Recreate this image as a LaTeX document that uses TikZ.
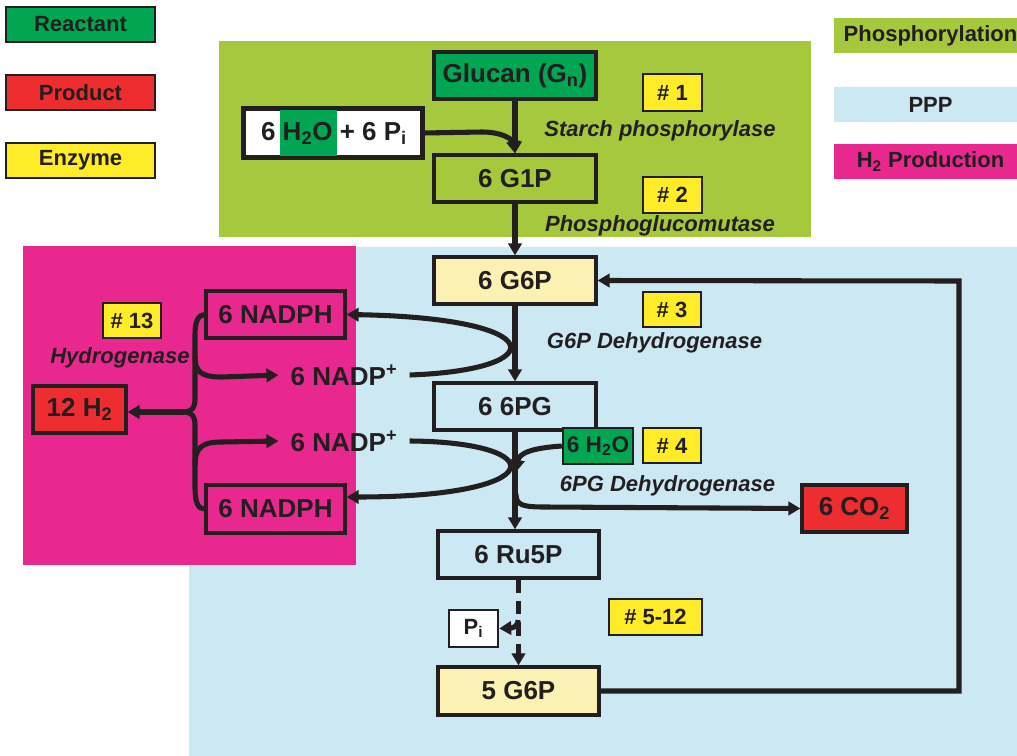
\documentclass[tikz,border=0pt]{standalone}
\usepackage{fontspec}
\setmainfont{Liberation Sans}
\usetikzlibrary{arrows.meta}
\definecolor{cgreen}{RGB}{0,166,81}
\definecolor{cred}{RGB}{237,45,47}
\definecolor{cyel}{RGB}{255,236,41}
\definecolor{clyel}{RGB}{250,241,178}
\definecolor{colive}{RGB}{166,200,60}
\definecolor{cblue}{RGB}{203,232,243}
\definecolor{cmag}{RGB}{232,40,142}
\definecolor{cink}{RGB}{35,31,32}
\tikzset{
  big/.style={font=\fontsize{19.5}{22}\selectfont\bfseries},
  small/.style={font=\fontsize{16.5}{19}\selectfont\bfseries},
  it/.style={font=\fontsize{16.5}{19}\selectfont\bfseries\itshape, text=cink, inner sep=0pt},
  sz/.style 2 args={minimum width=#1*0.75pt, minimum height=#2*0.75pt},
  box/.style={draw=cink, line width=2.4pt, inner sep=0pt, text=cink, big},
  enz/.style={draw=cink, line width=1.5pt, fill=cyel, inner sep=0pt, text=cink, small},
  leg/.style={draw=cink, line width=1.8pt, inner sep=0pt, text=cink, small},
  band/.style={inner sep=0pt, text=cink, small},
  arr/.style={draw=cink, line width=3.8pt, -{Triangle[length=9pt,width=10pt]}},
  ln/.style={draw=cink, line width=3.8pt}
}
\begin{document}
\begin{tikzpicture}[x=0.75pt,y=-0.75pt]
\useasboundingbox (0,0) rectangle (1017,756);
% backgrounds
\fill[colive] (219,41) rectangle (811,237);
\fill[cblue] (189,247) rectangle (1017,756);
\fill[cmag] (23,246) rectangle (356,565);

% legend
\node[leg, fill=cgreen, sz={149}{35}] (lreact) at (80.5,24.5) {Reactant};
\node[leg, fill=cred, sz={149}{35}] (lprod) at (80.5,92.5) {Product};
\node[leg, fill=cyel, sz={149}{35}] (lenz) at (80.5,160.5) {Enzyme};
\node[band, fill=colive, sz={193}{35}] (lphos) at (930.5,35.5) {Phosphorylation};
\node[band, fill=cblue, sz={193}{35}] (lppp) at (930.5,104.5) {PPP};
\node[band, fill=cmag, sz={193}{35}] (lh2) at (930.5,161.5) {H\textsubscript{2} Production};

% phosphorylation
\node[box, fill=cgreen, sz={162}{47}] (glucan) at (515,75.5) {Glucan (G\textsubscript{n})};
\node[box, fill=white, sz={178}{48}] (water) at (333,133) {};
\fill[cgreen] (280,110) rectangle (337,156);
\draw[cink, line width=2.4pt] (water.north west) rectangle (water.south east);
\node[big, text=cink, inner sep=0pt] (watertxt) at (334,133) {6 H\textsubscript{2}O + 6 P\textsubscript{i}};
\node[box, sz={162}{47}] (g1p) at (515,178.5) {6 G1P};
\node[enz, sz={59}{37}] (e1) at (672.5,92.5) {\# 1};
\node[it] (l1) at (660,131) {Starch phosphorylase};
\node[enz, sz={59}{36}] (e2) at (672.5,195) {\# 2};
\node[it] (l2) at (660,226) {Phosphoglucomutase};

% PPP
\node[box, fill=clyel, sz={162}{47}] (g6p) at (515,280.5) {6 G6P};
\node[box, sz={162}{47}] (pg6) at (515,406.5) {6 6PG};
\node[box, sz={161}{47}] (ru5p) at (518.5,554.5) {6 Ru5P};
\node[box, fill=clyel, sz={161}{48}] (g6pb) at (518.5,691) {5 G6P};
\node[box, fill=cgreen, line width=1.8pt, font=\fontsize{17}{19}\selectfont\bfseries, sz={70}{36}] (h2o) at (598,446) {6 H\textsubscript{2}O};
\node[box, fill=cred, sz={105}{47}] (co2) at (854.5,508.5) {6 CO\textsubscript{2}};
\node[box, fill=white, line width=1.8pt, small, sz={49}{37}] (pi) at (473.5,628.5) {P\textsubscript{i}};
\node[enz, sz={58}{35}] (e3) at (672,309.5) {\# 3};
\node[it] (l3) at (654.5,343) {G6P Dehydrogenase};
\node[enz, sz={58}{35}] (e4) at (672,445.5) {\# 4};
\node[it] (l4) at (667.5,486) {6PG Dehydrogenase};
\node[enz, sz={93}{36}] (e512) at (655.5,617) {\# 5-12};

% H2 production
\node[box, sz={139}{47}] (nadph1) at (275.5,314.5) {6 NADPH};
\node[box, sz={139}{48}] (nadph2) at (275.5,509) {6 NADPH};
\node[box, fill=cred, sz={93}{47}] (h2) at (79.5,409.5) {12 H\textsubscript{2}};
\node[big, text=cink, inner xsep=9pt, inner ysep=0pt] (nadp1) at (344,375) {6 NADP\textsuperscript{+}};
\node[big, text=cink, inner xsep=9pt, inner ysep=0pt] (nadp2) at (344,441) {6 NADP\textsuperscript{+}};
\node[enz, sz={58}{35}] (e13) at (132,320.5) {\# 13};
\node[it] (l13) at (120,358) {Hydrogenase};

% connectors
\draw[arr] (glucan.south) -- (g1p.north);
\draw[arr] (water.east) -- (482,132) .. controls (503,132) and (513,140) .. (g1p.north);
\draw[arr] (g1p.south) -- (g6p.north);
\draw[arr] (g6p.south) -- (pg6.north);
\draw[arr] (pg6.south) -- (pg6.south |- ru5p.north);
\draw[arr] (h2o.west) .. controls (532,448) and (519,453) .. (516,472);
\coordinate (cobr) at (516,494);
\draw[arr] (cobr) .. controls (516,505) and (522,507) .. (545,507) -- (co2.west);
\draw[arr, dash pattern=on 10pt off 6pt] (ru5p.south) -- (ru5p.south |- g6pb.north);
\draw[arr] (518,620) .. controls (518,627) and (512,628) .. (pi.east);
\draw[arr] (g6pb.east) -- (959,691) -- (959,281) -- (g6p.east);

% loops NADP+ -> NADPH
\draw[arr] (nadp1.east) .. controls (552,370) and (552,318) .. (nadph1.east);
\draw[arr] (nadp2.east) .. controls (552,442) and (552,497) .. ([yshift=9pt]nadph2.east);

% hydrogenase brace
\coordinate (hj) at (183,412);
\draw[ln] (nadph1.west) .. controls (198,315) and (195,322) .. (195,334) -- (195,398) .. controls (195,408) and (192,412) .. (hj);
\draw[ln] (hj) .. controls (192,412) and (195,416) .. (195,426) -- (195,488) .. controls (195,502) and (198,509) .. (nadph2.west);
\draw[arr] (hj) -- (hj -| h2.east);
\draw[arr] (195,356) .. controls (195,372) and (201,377) .. (222,377) -- (nadp1.west);
\draw[arr] (195,466) .. controls (195,448) and (201,442) .. (222,442) -- (nadp2.west);
\end{tikzpicture}
\end{document}
